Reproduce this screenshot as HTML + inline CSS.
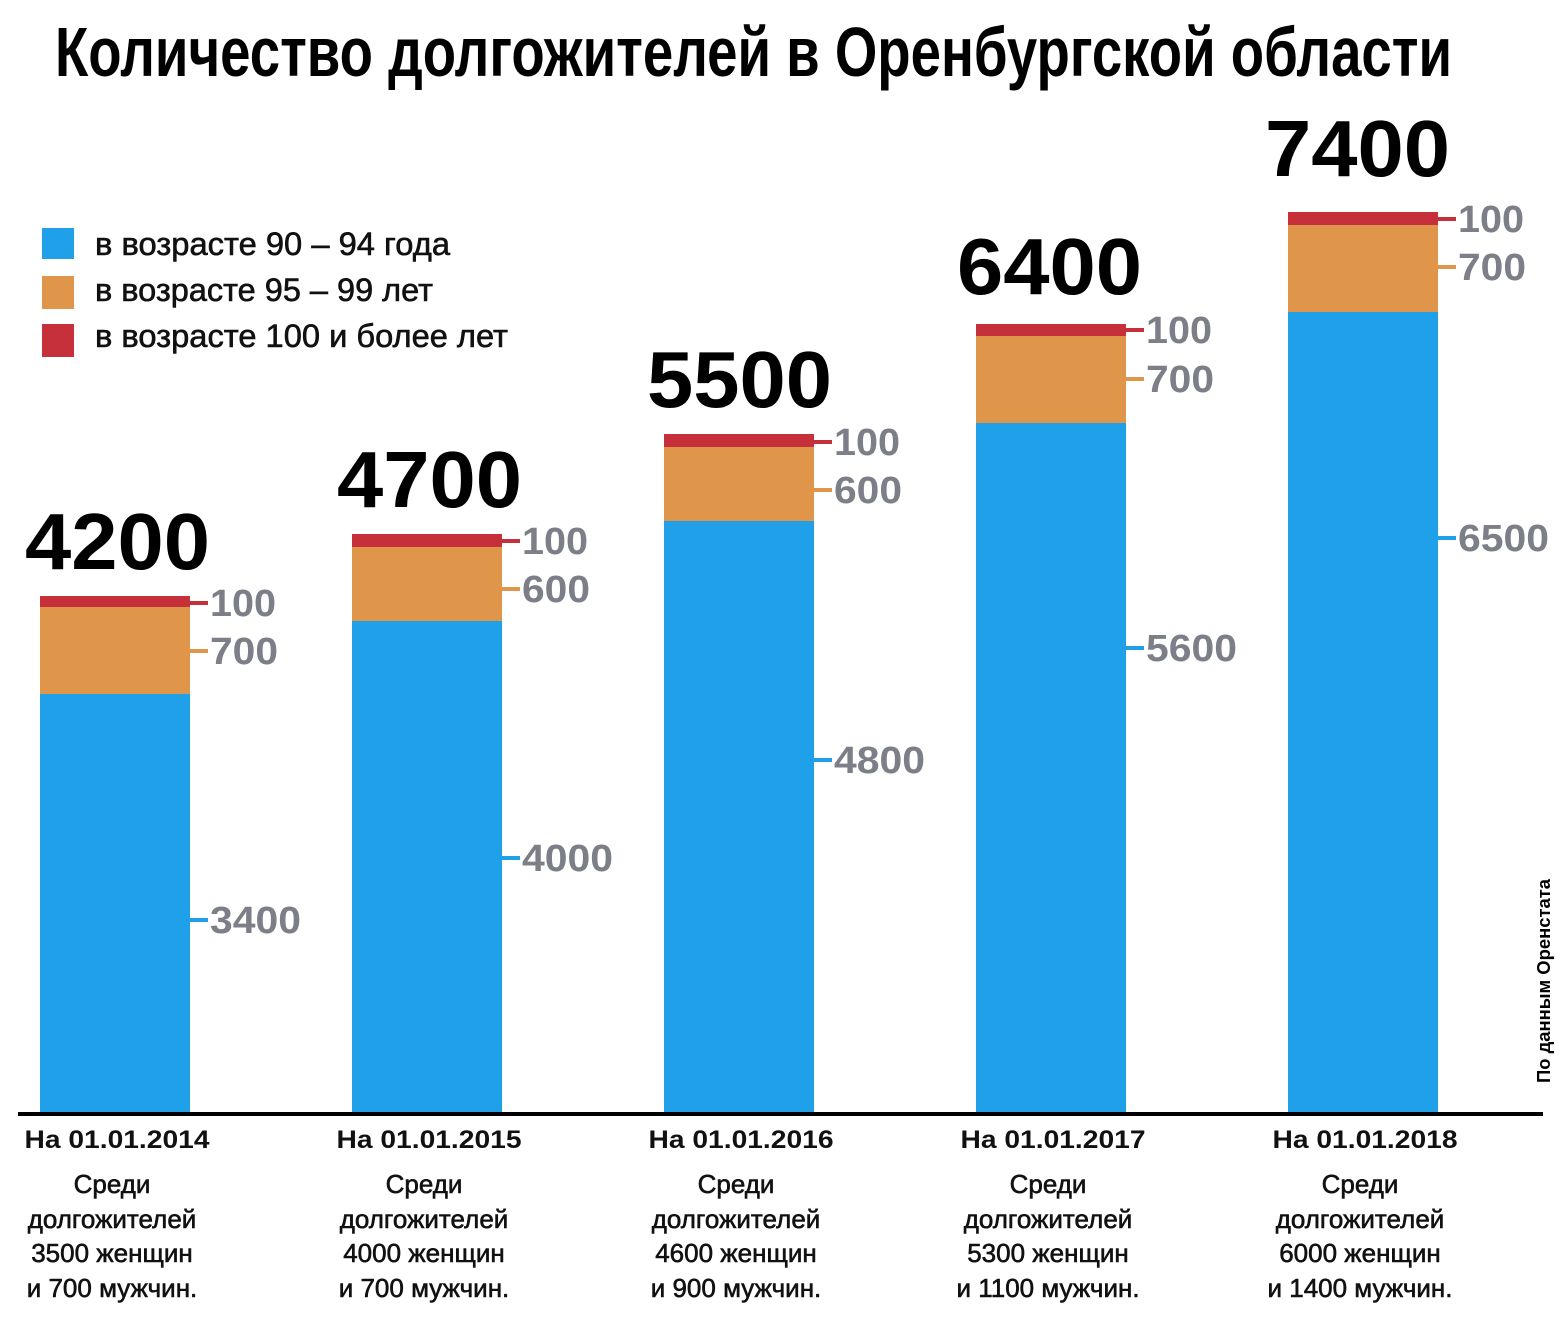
<!DOCTYPE html>
<html><head><meta charset="utf-8"><style>
html,body{margin:0;padding:0;background:#fff}
svg{display:block}
text{font-family:"Liberation Sans","DejaVu Sans",sans-serif}
.v{font-size:38px;font-weight:bold;fill:#7c7f88}
.big{font-size:80px;font-weight:bold;fill:#000}
.d{font-size:25px;font-weight:bold;fill:#111;text-anchor:middle}
.s{font-size:26px;fill:#111;text-anchor:middle;stroke:#111;stroke-width:0.6}
.lg{font-size:32px;fill:#111;stroke:#111;stroke-width:0.6}
</style></head><body>
<svg width="1559" height="1331" viewBox="0 0 1559 1331" xmlns="http://www.w3.org/2000/svg">
<text x="55" y="76" font-size="70" font-weight="bold" textLength="1397" lengthAdjust="spacingAndGlyphs">Количество долгожителей в Оренбургской области</text>

<rect x="42" y="228" width="32" height="31" fill="#1fa0e8"/>
<rect x="42" y="276" width="32" height="33" fill="#e0964a"/>
<rect x="42" y="324" width="32" height="33" fill="#c5303a"/>
<text class="lg" x="95" y="255" textLength="355" lengthAdjust="spacingAndGlyphs">в возрасте 90 – 94 года</text>
<text class="lg" x="95" y="301" textLength="338" lengthAdjust="spacingAndGlyphs">в возрасте 95 – 99 лет</text>
<text class="lg" x="95" y="347" textLength="413" lengthAdjust="spacingAndGlyphs">в возрасте 100 и более лет</text>

<g>
<rect x="40" y="694" width="150" height="421" fill="#1fa0e8"/><rect x="40" y="607" width="150" height="87" fill="#e0964a"/><rect x="40" y="596" width="150" height="11" fill="#c5303a"/>
<rect x="352" y="621" width="150" height="494" fill="#1fa0e8"/><rect x="352" y="547" width="150" height="74" fill="#e0964a"/><rect x="352" y="534" width="150" height="13" fill="#c5303a"/>
<rect x="664" y="521" width="150" height="594" fill="#1fa0e8"/><rect x="664" y="447" width="150" height="74" fill="#e0964a"/><rect x="664" y="434" width="150" height="13" fill="#c5303a"/>
<rect x="976" y="423" width="150" height="692" fill="#1fa0e8"/><rect x="976" y="336" width="150" height="87" fill="#e0964a"/><rect x="976" y="324" width="150" height="12" fill="#c5303a"/>
<rect x="1288" y="312" width="150" height="803" fill="#1fa0e8"/><rect x="1288" y="225" width="150" height="87" fill="#e0964a"/><rect x="1288" y="212" width="150" height="13" fill="#c5303a"/>
</g>

<line x1="18" y1="1114" x2="1543" y2="1114" stroke="#000" stroke-width="4"/>

<g stroke-width="4">
<line x1="190" y1="603" x2="208" y2="603" stroke="#c5303a"/><line x1="190" y1="651" x2="208" y2="651" stroke="#e0964a"/><line x1="190" y1="920" x2="208" y2="920" stroke="#1fa0e8"/>
<line x1="502" y1="541" x2="520" y2="541" stroke="#c5303a"/><line x1="502" y1="589" x2="520" y2="589" stroke="#e0964a"/><line x1="502" y1="858" x2="520" y2="858" stroke="#1fa0e8"/>
<line x1="814" y1="442" x2="832" y2="442" stroke="#c5303a"/><line x1="814" y1="490" x2="832" y2="490" stroke="#e0964a"/><line x1="814" y1="760" x2="832" y2="760" stroke="#1fa0e8"/>
<line x1="1126" y1="330" x2="1144" y2="330" stroke="#c5303a"/><line x1="1126" y1="379" x2="1144" y2="379" stroke="#e0964a"/><line x1="1126" y1="648" x2="1144" y2="648" stroke="#1fa0e8"/>
<line x1="1438" y1="219" x2="1456" y2="219" stroke="#c5303a"/><line x1="1438" y1="267" x2="1456" y2="267" stroke="#e0964a"/><line x1="1438" y1="538" x2="1456" y2="538" stroke="#1fa0e8"/>
</g>
<g>
<text class="v" x="210" y="616" textLength="66" lengthAdjust="spacingAndGlyphs">100</text><text class="v" x="210" y="664" textLength="68" lengthAdjust="spacingAndGlyphs">700</text><text class="v" x="210" y="933" textLength="91" lengthAdjust="spacingAndGlyphs">3400</text>
<text class="v" x="522" y="554" textLength="66" lengthAdjust="spacingAndGlyphs">100</text><text class="v" x="522" y="602" textLength="68" lengthAdjust="spacingAndGlyphs">600</text><text class="v" x="522" y="871" textLength="91" lengthAdjust="spacingAndGlyphs">4000</text>
<text class="v" x="834" y="455" textLength="66" lengthAdjust="spacingAndGlyphs">100</text><text class="v" x="834" y="503" textLength="68" lengthAdjust="spacingAndGlyphs">600</text><text class="v" x="834" y="773" textLength="91" lengthAdjust="spacingAndGlyphs">4800</text>
<text class="v" x="1146" y="343" textLength="66" lengthAdjust="spacingAndGlyphs">100</text><text class="v" x="1146" y="392" textLength="68" lengthAdjust="spacingAndGlyphs">700</text><text class="v" x="1146" y="661" textLength="91" lengthAdjust="spacingAndGlyphs">5600</text>
<text class="v" x="1458" y="232" textLength="66" lengthAdjust="spacingAndGlyphs">100</text><text class="v" x="1458" y="280" textLength="68" lengthAdjust="spacingAndGlyphs">700</text><text class="v" x="1458" y="551" textLength="91" lengthAdjust="spacingAndGlyphs">6500</text>
</g>

<text class="big" x="25" y="569" textLength="185" lengthAdjust="spacingAndGlyphs">4200</text>
<text class="big" x="337" y="507" textLength="185" lengthAdjust="spacingAndGlyphs">4700</text>
<text class="big" x="647" y="407" textLength="185" lengthAdjust="spacingAndGlyphs">5500</text>
<text class="big" x="957" y="294" textLength="185" lengthAdjust="spacingAndGlyphs">6400</text>
<text class="big" x="1265" y="176" textLength="185" lengthAdjust="spacingAndGlyphs">7400</text>

<g>
<text class="d" x="117" y="1148" textLength="185" lengthAdjust="spacingAndGlyphs">На 01.01.2014</text>
<text class="s" x="112" y="1193">Среди</text><text class="s" x="112" y="1228">долгожителей</text><text class="s" x="112" y="1262">3500 женщин</text><text class="s" x="112" y="1297">и 700 мужчин.</text>
<text class="d" x="429" y="1148" textLength="185" lengthAdjust="spacingAndGlyphs">На 01.01.2015</text>
<text class="s" x="424" y="1193">Среди</text><text class="s" x="424" y="1228">долгожителей</text><text class="s" x="424" y="1262">4000 женщин</text><text class="s" x="424" y="1297">и 700 мужчин.</text>
<text class="d" x="741" y="1148" textLength="185" lengthAdjust="spacingAndGlyphs">На 01.01.2016</text>
<text class="s" x="736" y="1193">Среди</text><text class="s" x="736" y="1228">долгожителей</text><text class="s" x="736" y="1262">4600 женщин</text><text class="s" x="736" y="1297">и 900 мужчин.</text>
<text class="d" x="1053" y="1148" textLength="185" lengthAdjust="spacingAndGlyphs">На 01.01.2017</text>
<text class="s" x="1048" y="1193">Среди</text><text class="s" x="1048" y="1228">долгожителей</text><text class="s" x="1048" y="1262">5300 женщин</text><text class="s" x="1048" y="1297">и 1100 мужчин.</text>
<text class="d" x="1365" y="1148" textLength="185" lengthAdjust="spacingAndGlyphs">На 01.01.2018</text>
<text class="s" x="1360" y="1193">Среди</text><text class="s" x="1360" y="1228">долгожителей</text><text class="s" x="1360" y="1262">6000 женщин</text><text class="s" x="1360" y="1297">и 1400 мужчин.</text>
</g>

<text x="1550" y="1083" font-size="18" font-weight="bold" transform="rotate(-90 1550 1083)" textLength="204" lengthAdjust="spacingAndGlyphs">По данным Оренстата</text>
</svg>
</body></html>
